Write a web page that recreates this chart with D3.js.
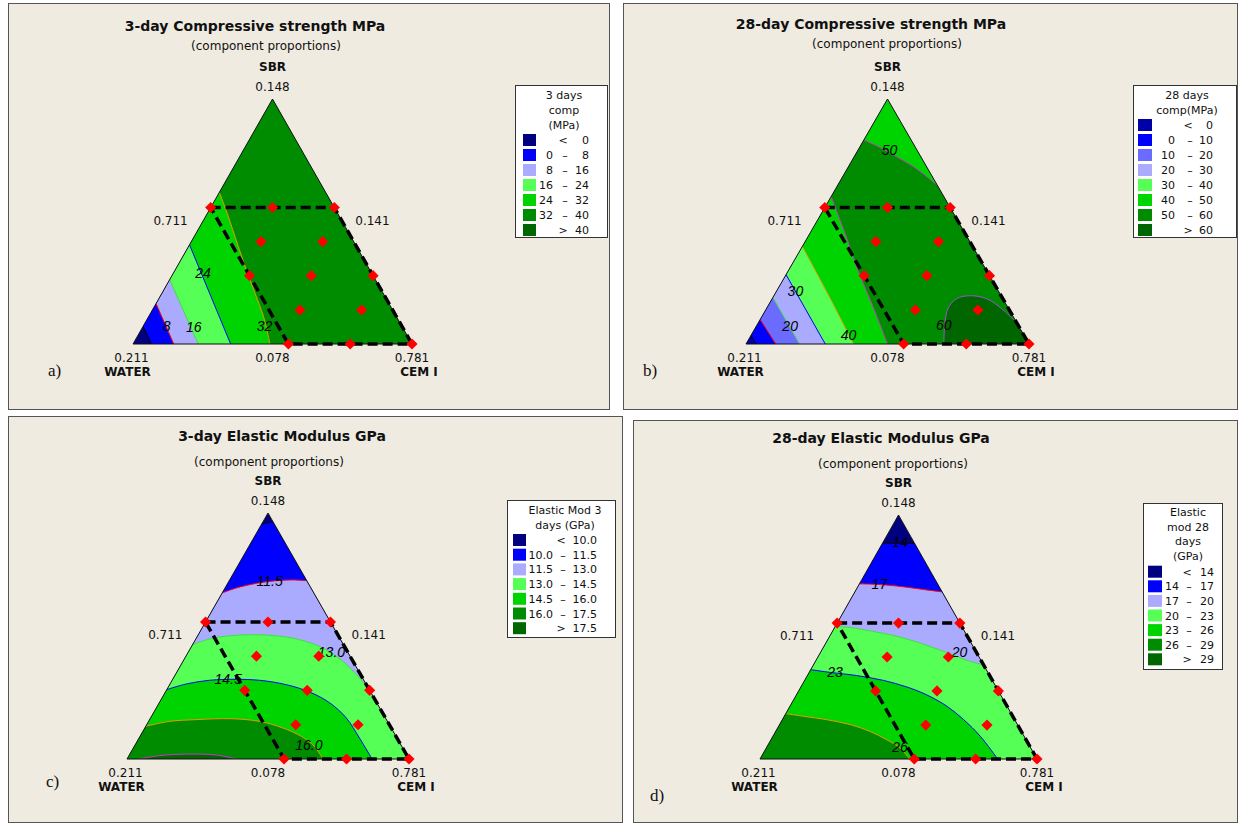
<!DOCTYPE html>
<html>
<head>
<meta charset="utf-8">
<script src="https://cdn.jsdelivr.net/npm/d3@7"></script>
<style>
  body { margin: 0; background: #fff; }
  svg text { font-family: "DejaVu Sans", Verdana, sans-serif; fill: #111; }
</style>
</head>
<body>
<svg id="viz" width="1239" height="825"></svg>
<script>
// ternary points are written [SBR, CEM I] as pseudo-component fractions,
// WATER = 1 - SBR - CEM I

var titles = ["3-day Compressive strength MPa", "28-day Compressive strength MPa",
              "3-day Elastic Modulus GPa", "28-day Elastic Modulus GPa"];
var subtitle = "(component proportions)";
var panelTags = ["a)", "b)", "c)", "d)"];
var components = ["SBR", "WATER", "CEM I"];
// apex, left edge, right edge, bottom-left, bottom-mid, bottom-right
var edgeTicks = ["0.148", "0.711", "0.141", "0.211", "0.078", "0.781"];
var legendTitles = [["3 days", "comp", "(MPa)"], ["28 days", "comp(MPa)"],
                    ["Elastic Mod 3", "days (GPa)"], ["Elastic", "mod 28", "days", "(GPa)"]];

// the 13 mixes of the design
var designPoints = [[.557, 0], [.557, .2215], [.557, .443],
                    [.418, .25], [.418, .471],
                    [.279, .278], [.279, .4995], [.279, .721],
                    [.139, .529], [.139, .75],
                    [0, .557], [0, .7785], [0, 1]];
var designRegion = [[.557, 0], [.557, .443], [0, 1], [0, .557]];

// contour levels
var aLevels = [0, 8, 16, 24, 32, 40];
var bLevels = [0, 10, 20, 30, 40, 50, 60];
var cLevels = [10, 11.5, 13, 14.5, 16, 17.5];
var dLevels = [14, 17, 20, 23, 26, 29];

// contour lines; ring = how the "above level" area closes
// (numbers point into lines, letters are triangle corners)
var aContours = [
  {level: 0,  lines: [[[.072, 0], [0, .066]]], ring: [0, "C", "S"]},
  {level: 8,  lines: [[[.165, 0], [0, .146]]], ring: [0, "C", "S"]},
  {level: 16, lines: [[[.263, 0], [0, .234]]], ring: [0, "C", "S"]},
  {level: 24, lines: [[[.405, 0], [0, .350]]], ring: [0, "C", "S"]},
  {level: 32, lines: [[[.619, 0], [.548, .059], [.439, .146], [.331, .232], [.208, .333], [.113, .411], [0, .491]]], ring: [0, "C", "S"]}
];
var bContours = [
  {level: 0,  lines: [[[.035, 0], [0, .035]]], ring: [0, "C", "S"]},
  {level: 10, lines: [[[.10, 0], [0, .105]]], ring: [0, "C", "S"]},
  {level: 20, lines: [[[.19, 0], [0, .189]]], ring: [0, "C", "S"]},
  {level: 30, lines: [[[.283, 0], [0, .28]]], ring: [0, "C", "S"]},
  {level: 40, lines: [[[.398, 0], [.201, .19], [0, .38]]], ring: [0, "C", "S"]},
  {level: 50, lines: [[[.833, 0], [.802, .073], [.765, .149], [.724, .229], [.679, .304], [.647, .353]],
                      [[0, .50], [.147, .377], [.296, .249], [.432, .14], [.541, .05], [.602, 0]]], ring: [0, "C", 1]},
  {level: 60, lines: [[[0, .699], [.079, .663], [.147, .641], [.185, .652], [.197, .692], [.185, .757], [.14, .838], [.085, .915]]], ring: [0, "C"]}
];
var cContours = [
  {level: 10,   lines: [[[.955, 0], [.965, .035]]], ring: [0, "C", "W"]},
  {level: 11.5, lines: [[[.675, 0], [.695, .04], [.714, .102], [.725, .167], [.728, .225], [.725, .275]]], ring: [0, "C", "W"]},
  {level: 13,   lines: [[[.465, 0], [.488, .049], [.501, .113], [.505, .194], [.501, .279], [.485, .369], [.451, .469], [.397, .567], [.336, .651], [.286, .714]]], ring: [0, "C", "W"]},
  {level: 14.5, lines: [[[.282, 0], [.305, .058], [.32, .133], [.324, .226], [.32, .31], [.302, .414], [.272, .512], [.228, .605], [.167, .694], [.085, .782], [0, .869]]], ring: [0, "W"]},
  {level: 16,   lines: [[[.133, 0], [.153, .074], [.16, .166], [.164, .282], [.153, .393], [.126, .49], [.092, .572], [.051, .639], [0, .695]]], ring: [0, "W"]},
  {level: 17.5, lines: [[[0, .043], [.0136, .109], [.02, .212], [.016, .309], [0, .388]]], ring: [0]}
];
var dContours = [
  {level: 14, lines: [[[.884, 0], [.884, .116]]], ring: [0, "C", "W"]},
  {level: 17, lines: [[[.718, 0], [.714, .089], [.704, .178], [.693, .255], [.685, .315]]], ring: [0, "C", "W"]},
  {level: 20, lines: [[[.543, 0], [.539, .055], [.525, .135], [.509, .216], [.488, .298], [.461, .383], [.431, .471], [.404, .545], [.386, .614]]], ring: [0, "C", "W"]},
  {level: 23, lines: [[[.366, 0], [.355, .076], [.342, .178], [.322, .285], [.295, .383], [.263, .47], [.216, .567], [.161, .655], [.093, .749], [0, .858]]], ring: [0, "W"]},
  {level: 26, lines: [[[.186, 0], [.175, .07], [.161, .161], [.141, .255], [.113, .341], [.079, .418], [.045, .483], [0, .54]]], ring: [0, "W"]}
];

// contour value labels [text, SBR, CEM I]
var aLabels = [["8", .075, .083], ["16", .069, .183], ["24", .290, .106], ["32", .075, .434]];
var bLabels = [["50", .792, .111], ["30", .215, .067], ["20", .072, .12], ["40", .038, .343], ["60", .076, .661]];
var cLabels = [["11.5", .722, .145], ["13.0", .434, .508], ["14.5", .327, .195], ["16.0", .058, .616]];
var dLabels = [["14", .888, .062], ["17", .718, .072], ["20", .437, .502], ["23", .356, .093], ["26", .049, .481]];

// styles
var fill7 = ["#000080", "#0000ff", "#aaaaff", "#55ff55", "#00d400", "#008c00", "#006600"];
var fill8 = ["#0000a8", "#0000ff", "#6b6bff", "#aaaaff", "#55ff55", "#00d400", "#008c00", "#006600"];
var lineColors = ["#000000", "#ff0000", "#44dd44", "#0000ff", "#e89a00", "#cc33cc", "#9955cc"];

var panels = [
  {title: titles[0], levels: aLevels, contours: aContours, labels: aLabels, legend: legendTitles[0], fmt: d3.format("d"), colors: fill7,
   tri: [133, 412, 344, 99], box: [8, 3, 601, 406], t: [255, 31], s: [266, 50], tag: [48, 376],
   lg: {x: 515, y: 85, w: 92, h: 152, tx: 49, ty: 14, tlh: 15, ry: 55, rh: 15, sw: [8, 13], lo: 38, dash: 50, hi: 74}},
  {title: titles[1], levels: bLevels, contours: bContours, labels: bLabels, legend: legendTitles[1], fmt: d3.format("d"), colors: fill8,
   tri: [746, 1029, 344, 99], box: [623, 3, 614, 406], t: [871, 29], s: [887, 48], tag: [643, 376],
   lg: {x: 1133, y: 85, w: 103, h: 152, tx: 54, ty: 14, tlh: 15, ry: 40, rh: 15, sw: [5, 14], lo: 42, dash: 57, hi: 80}},
  {title: titles[2], levels: cLevels, contours: cContours, labels: cLabels, legend: legendTitles[2], fmt: d3.format(".1f"), colors: fill7,
   tri: [127, 409, 759, 513], box: [8, 416, 614, 406], t: [282, 441], s: [269, 466], tag: [46, 787],
   lg: {x: 507, y: 500, w: 108, h: 137, tx: 58, ty: 14, tlh: 15, ry: 40, rh: 14.7, sw: [6, 13], lo: 46, dash: 56, hi: 90}},
  {title: titles[3], levels: dLevels, contours: dContours, labels: dLabels, legend: legendTitles[3], fmt: d3.format("d"), colors: fill7,
   tri: [760, 1037, 759, 515], box: [633, 420, 604, 402], t: [881, 443], s: [893, 468], tag: [650, 801],
   lg: {x: 1143, y: 503, w: 79, h: 166, tx: 45, ty: 12.7, tlh: 14.8, ry: 68.7, rh: 14.6, sw: [5, 14], lo: 36, dash: 46, hi: 71}}
];

var svg = d3.select("#viz");
var corners = {W: [0, 0], C: [0, 1], S: [1, 0]};

panels.forEach(function(p, i) {
  var g = svg.append("g").attr("id", "panel-" + i);

  var x = d3.scaleLinear().domain([0, 1]).range([p.tri[0], p.tri[1]]);
  var y = d3.scaleLinear().domain([0, 1]).range([p.tri[2], p.tri[3]]);
  function px(d) { return [x(d[1] + d[0] / 2), y(d[0])]; }

  var smooth = d3.line()
    .x(function(d) { return px(d)[0]; })
    .y(function(d) { return px(d)[1]; })
    .curve(d3.curveCatmullRom.alpha(0.5));
  var straight = d3.line()
    .x(function(d) { return px(d)[0]; })
    .y(function(d) { return px(d)[1]; });

  function ringPath(c) {
    var s = "";
    c.ring.forEach(function(r, k) {
      var seg = typeof r === "string" ? "M" + px(corners[r]).join(",") : smooth(c.lines[r]);
      s += k ? "L" + seg.slice(1) : seg;
    });
    return s + "Z";
  }

  // panel frame
  g.append("rect")
    .attr("x", p.box[0] + 0.5).attr("y", p.box[1] + 0.5)
    .attr("width", p.box[2]).attr("height", p.box[3])
    .style("fill", "#efebe1").style("stroke", "#555");

  var triangle = straight([corners.W, corners.C, corners.S]) + "Z";
  g.append("clipPath").attr("id", "clip-" + i)
    .append("path").attr("d", triangle);

  var plot = g.append("g").attr("clip-path", "url(#clip-" + i + ")");

  plot.append("path").attr("d", triangle).style("fill", p.colors[0]);

  plot.selectAll(".band")
    .data(p.contours)
   .enter().append("path")
    .attr("class", "band")
    .attr("d", ringPath)
    .style("fill", function(d) { return p.colors[p.levels.indexOf(d.level) + 1]; });

  // contour lines
  p.contours.forEach(function(c) {
    plot.selectAll(null)
      .data(c.lines)
     .enter().append("path")
      .attr("d", smooth)
      .style("fill", "none")
      .style("stroke", lineColors[p.levels.indexOf(c.level)])
      .style("stroke-width", 1);
  });

  g.append("path").attr("d", triangle)
    .style("fill", "none").style("stroke", "#111").style("stroke-width", 1);

  g.selectAll(".clabel")
    .data(p.labels)
   .enter().append("text")
    .attr("class", "clabel")
    .attr("x", function(d) { return px([d[1], d[2]])[0]; })
    .attr("y", function(d) { return px([d[1], d[2]])[1] + 5; })
    .attr("text-anchor", "middle")
    .style("font-family", "'Liberation Sans', Arial, sans-serif")
    .style("font-style", "italic")
    .style("font-size", "14px")
    .style("fill", "#000")
    .text(function(d) { return d[0]; });

  // design region and mixes
  g.append("path")
    .attr("d", straight(designRegion) + "Z")
    .style("fill", "none").style("stroke", "#000")
    .style("stroke-width", 3.5).style("stroke-dasharray", "10,5");

  g.selectAll(".mix")
    .data(designPoints)
   .enter().append("path")
    .attr("class", "mix")
    .attr("d", d3.symbol(d3.symbolSquare, 62))
    .attr("transform", function(d) { var q = px(d); return "translate(" + q[0] + "," + q[1] + ") rotate(45)"; })
    .style("fill", "#ff0000");

  // titles and corner labels
  var apex = px(corners.S), wv = px(corners.W), cv = px(corners.C);
  var leftMid = px([.5, 0]), rightMid = px([.5, .5]), baseMid = px([0, .5]);

  g.append("text").attr("x", p.t[0]).attr("y", p.t[1]).attr("text-anchor", "middle")
    .style("font-weight", "bold").style("font-size", "14px").text(p.title);
  g.append("text").attr("x", p.s[0]).attr("y", p.s[1]).attr("text-anchor", "middle")
    .style("font-size", "12px").text(subtitle);

  var tickText = [
    [components[0], apex[0], apex[1] - 28, "middle", true],
    [edgeTicks[0], apex[0], apex[1] - 8, "middle", false],
    [edgeTicks[1], leftMid[0] - 15, leftMid[1] + 3, "end", false],
    [edgeTicks[2], rightMid[0] + 13, rightMid[1] + 3, "start", false],
    [edgeTicks[3], wv[0] - 1.5, wv[1] + 18, "middle", false],
    [edgeTicks[4], baseMid[0], baseMid[1] + 18, "middle", false],
    [edgeTicks[5], cv[0], cv[1] + 18, "middle", false],
    [components[1], wv[0] - 5.5, wv[1] + 32, "middle", true],
    [components[2], cv[0] + 7, cv[1] + 32, "middle", true]
  ];
  g.selectAll(".tick")
    .data(tickText)
   .enter().append("text")
    .attr("class", "tick")
    .attr("x", function(d) { return d[1]; })
    .attr("y", function(d) { return d[2]; })
    .attr("text-anchor", function(d) { return d[3]; })
    .style("font-weight", function(d) { return d[4] ? "bold" : "normal"; })
    .style("font-size", "12px")
    .text(function(d) { return d[0]; });

  g.append("text").attr("x", p.tag[0]).attr("y", p.tag[1])
    .style("font-family", "'Liberation Serif', 'Times New Roman', serif")
    .style("font-size", "17px").text(panelTags[i]);

  // legend
  var lg = p.lg;
  var leg = g.append("g").attr("transform", "translate(" + lg.x + "," + lg.y + ")")
    .style("font-family", "'Liberation Sans', Arial, sans-serif").style("font-size", "11px");
  leg.append("rect").attr("x", 0.5).attr("y", 0.5).attr("width", lg.w).attr("height", lg.h)
    .style("fill", "#fff").style("stroke", "#333");
  leg.selectAll(".lt")
    .data(p.legend)
   .enter().append("text")
    .attr("x", lg.tx).attr("y", function(d, k) { return lg.ty + k * lg.tlh; })
    .attr("text-anchor", "middle").text(function(d) { return d; });

  var n = p.levels.length;
  var rows = d3.range(n + 1).map(function(k) {
    if (k === 0) return {sym: "<", hi: p.fmt(p.levels[0])};
    if (k === n) return {sym: ">", hi: p.fmt(p.levels[n - 1])};
    return {lo: p.fmt(p.levels[k - 1]), hi: p.fmt(p.levels[k])};
  });
  var row = leg.selectAll(".row")
    .data(rows)
   .enter().append("g")
    .attr("transform", function(d, k) { return "translate(0," + (lg.ry + k * lg.rh) + ")"; });
  row.append("rect")
    .attr("x", lg.sw[0]).attr("y", -6).attr("width", lg.sw[1]).attr("height", 12)
    .style("fill", function(d, k) { return p.colors[k]; });
  row.append("text").attr("x", lg.hi).attr("y", 4).attr("text-anchor", "end")
    .text(function(d) { return d.hi; });
  row.append("text").attr("x", function(d) { return d.sym ? lg.dash - 2 : lg.dash; }).attr("y", 4)
    .attr("text-anchor", "middle").text(function(d) { return d.sym || "\u2013"; });
  row.filter(function(d) { return d.lo; })
    .append("text").attr("x", lg.lo).attr("y", 4).attr("text-anchor", "end")
    .text(function(d) { return d.lo; });
});
</script>
</body>
</html>
